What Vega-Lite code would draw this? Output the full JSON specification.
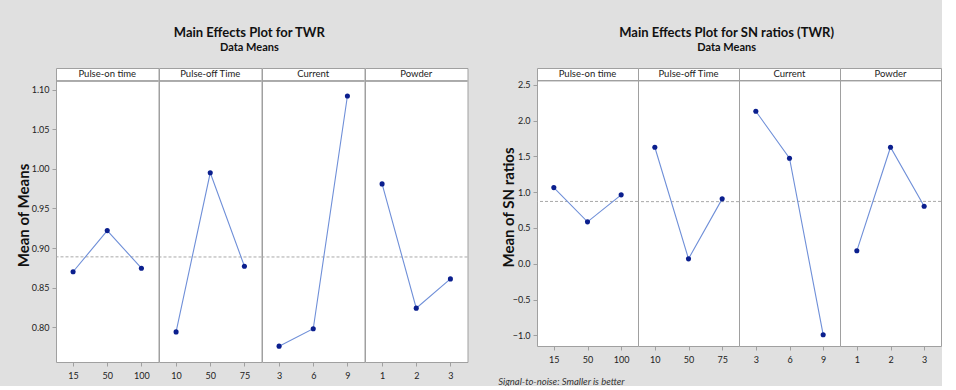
{
  "$schema": "https://vega.github.io/schema/vega-lite/v6.json",
  "background": "#e0e0e0",
  "padding": {"left": 16, "top": 26, "right": 0, "bottom": 0},
  "datasets": {
    "twr": [
      {"factor": "Pulse-on time", "level": 15, "value": 0.870},
      {"factor": "Pulse-on time", "level": 50, "value": 0.922},
      {"factor": "Pulse-on time", "level": 100, "value": 0.8745},
      {"factor": "Pulse-off Time", "level": 10, "value": 0.794},
      {"factor": "Pulse-off Time", "level": 50, "value": 0.995},
      {"factor": "Pulse-off Time", "level": 75, "value": 0.877},
      {"factor": "Current", "level": 3, "value": 0.776},
      {"factor": "Current", "level": 6, "value": 0.798},
      {"factor": "Current", "level": 9, "value": 1.092},
      {"factor": "Powder", "level": 1, "value": 0.981},
      {"factor": "Powder", "level": 2, "value": 0.824},
      {"factor": "Powder", "level": 3, "value": 0.861}
    ],
    "sn": [
      {"factor": "Pulse-on time", "level": 15, "value": 1.063},
      {"factor": "Pulse-on time", "level": 50, "value": 0.585},
      {"factor": "Pulse-on time", "level": 100, "value": 0.962},
      {"factor": "Pulse-off Time", "level": 10, "value": 1.627},
      {"factor": "Pulse-off Time", "level": 50, "value": 0.069},
      {"factor": "Pulse-off Time", "level": 75, "value": 0.906},
      {"factor": "Current", "level": 3, "value": 2.129},
      {"factor": "Current", "level": 6, "value": 1.473},
      {"factor": "Current", "level": 9, "value": -0.99},
      {"factor": "Powder", "level": 1, "value": 0.181},
      {"factor": "Powder", "level": 2, "value": 1.627},
      {"factor": "Powder", "level": 3, "value": 0.804}
    ]
  },
  "spacing": 29,
  "hconcat": [
    {
      "data": {"name": "twr"},
      "title": {"text": "Main Effects Plot for TWR", "subtitle": "Data Means", "anchor": "middle", "offset": 15, "dx": 7},
      "facet": {"column": {"field": "factor", "type": "nominal", "sort": ["Pulse-on time", "Pulse-off Time", "Current", "Powder"], "header": {"title": null, "labels": false}}},
      "spacing": 0,
      "bounds": "flush",
      "resolve": {"scale": {"x": "independent"}},
      "spec": {
        "width": 102.5,
        "height": 294,
        "encoding": {
          "y": {"type": "quantitative", "scale": {"domain": [0.756, 1.1274], "nice": false, "zero": false},
            "axis": {"values": [0.8, 0.85, 0.9, 0.95, 1.0, 1.05, 1.1], "format": ".2f", "title": "Mean of Means", "titlePadding": 0}}
        },
        "layer": [
          {"mark": {"type": "rule", "color": "#a8a8a8", "strokeDash": [3, 2], "strokeWidth": 1}, "encoding": {"y": {"aggregate": "mean", "field": "value", "type": "quantitative"}}},
          {"mark": {"type": "line", "color": "#6f8fd8", "strokeWidth": 1.1}, "encoding": {"x": {"field": "level", "type": "ordinal", "axis": {"title": null}}, "y": {"field": "value", "type": "quantitative"}}},
          {"mark": {"type": "point", "filled": true, "color": "#0b1f8e", "size": 26, "opacity": 1}, "encoding": {"x": {"field": "level", "type": "ordinal", "axis": {"title": null}}, "y": {"field": "value", "type": "quantitative"}}},
          {"mark": {"type": "rule", "color": "#a0a0a0", "strokeWidth": 1}, "encoding": {"y": {"datum": 1.111, "type": "quantitative"}}},
          {"transform": [{"aggregate": [{"op": "count", "as": "n"}], "groupby": ["factor"]}], "mark": {"type": "text", "font": "Lato", "fontSize": 9.5, "baseline": "middle", "color": "#222"}, "encoding": {"y": {"datum": 1.1192, "type": "quantitative"}, "text": {"field": "factor"}}}
        ]
      }
    },
    {
      "title": {"text": "Signal-to-noise: Smaller is better", "orient": "bottom", "anchor": "start", "fontStyle": "italic", "fontWeight": "normal", "fontSize": 9.5, "font": "Lato", "color": "#333", "offset": 12, "dx": -3},
      "vconcat": [
        {
          "data": {"name": "sn"},
          "title": {"text": "Main Effects Plot for SN ratios (TWR)", "subtitle": "Data Means", "anchor": "middle", "offset": 15, "dx": 5},
          "facet": {"column": {"field": "factor", "type": "nominal", "sort": ["Pulse-on time", "Pulse-off Time", "Current", "Powder"], "header": {"title": null, "labels": false}}},
          "spacing": 0,
          "bounds": "flush",
          "resolve": {"scale": {"x": "independent"}},
          "spec": {
            "width": 101,
            "height": 278,
            "encoding": {
              "y": {"type": "quantitative", "scale": {"domain": [-1.148, 2.733], "nice": false, "zero": false},
                "axis": {"values": [-1.0, -0.5, 0, 0.5, 1.0, 1.5, 2.0, 2.5], "format": ".1f", "title": "Mean of SN ratios"}}
            },
            "layer": [
              {"mark": {"type": "rule", "color": "#a8a8a8", "strokeDash": [3, 2], "strokeWidth": 1}, "encoding": {"y": {"aggregate": "mean", "field": "value", "type": "quantitative"}}},
              {"mark": {"type": "line", "color": "#6f8fd8", "strokeWidth": 1.1}, "encoding": {"x": {"field": "level", "type": "ordinal", "axis": {"title": null}}, "y": {"field": "value", "type": "quantitative"}}},
              {"mark": {"type": "point", "filled": true, "color": "#0b1f8e", "size": 26, "opacity": 1}, "encoding": {"x": {"field": "level", "type": "ordinal", "axis": {"title": null}}, "y": {"field": "value", "type": "quantitative"}}},
              {"mark": {"type": "rule", "color": "#a0a0a0", "strokeWidth": 1}, "encoding": {"y": {"datum": 2.556, "type": "quantitative"}}},
              {"transform": [{"aggregate": [{"op": "count", "as": "n"}], "groupby": ["factor"]}], "mark": {"type": "text", "font": "Lato", "fontSize": 9.5, "baseline": "middle", "color": "#222"}, "encoding": {"y": {"datum": 2.645, "type": "quantitative"}, "text": {"field": "factor"}}}
            ]
          }
        }
      ]
    }
  ],
  "config": {
    "view": {"stroke": "#a0a0a0", "fill": "white"},
    "title": {"font": "Lato", "fontSize": 13, "fontWeight": "bold", "color": "#111", "subtitleFont": "Lato", "subtitleFontSize": 11, "subtitleFontWeight": "bold", "subtitleColor": "#111", "subtitlePadding": 2},
    "axis": {"grid": false, "domain": false, "tickColor": "#a0a0a0", "tickSize": 4, "labelFont": "Lato", "labelFontSize": 9, "labelColor": "#222", "labelPadding": 3, "titleFont": "Lato", "titleFontSize": 15, "titleFontWeight": "bold", "titleColor": "#111", "titlePadding": -4},
    "axisX": {"labelAngle": 0, "labelPadding": 5}
  }
}
